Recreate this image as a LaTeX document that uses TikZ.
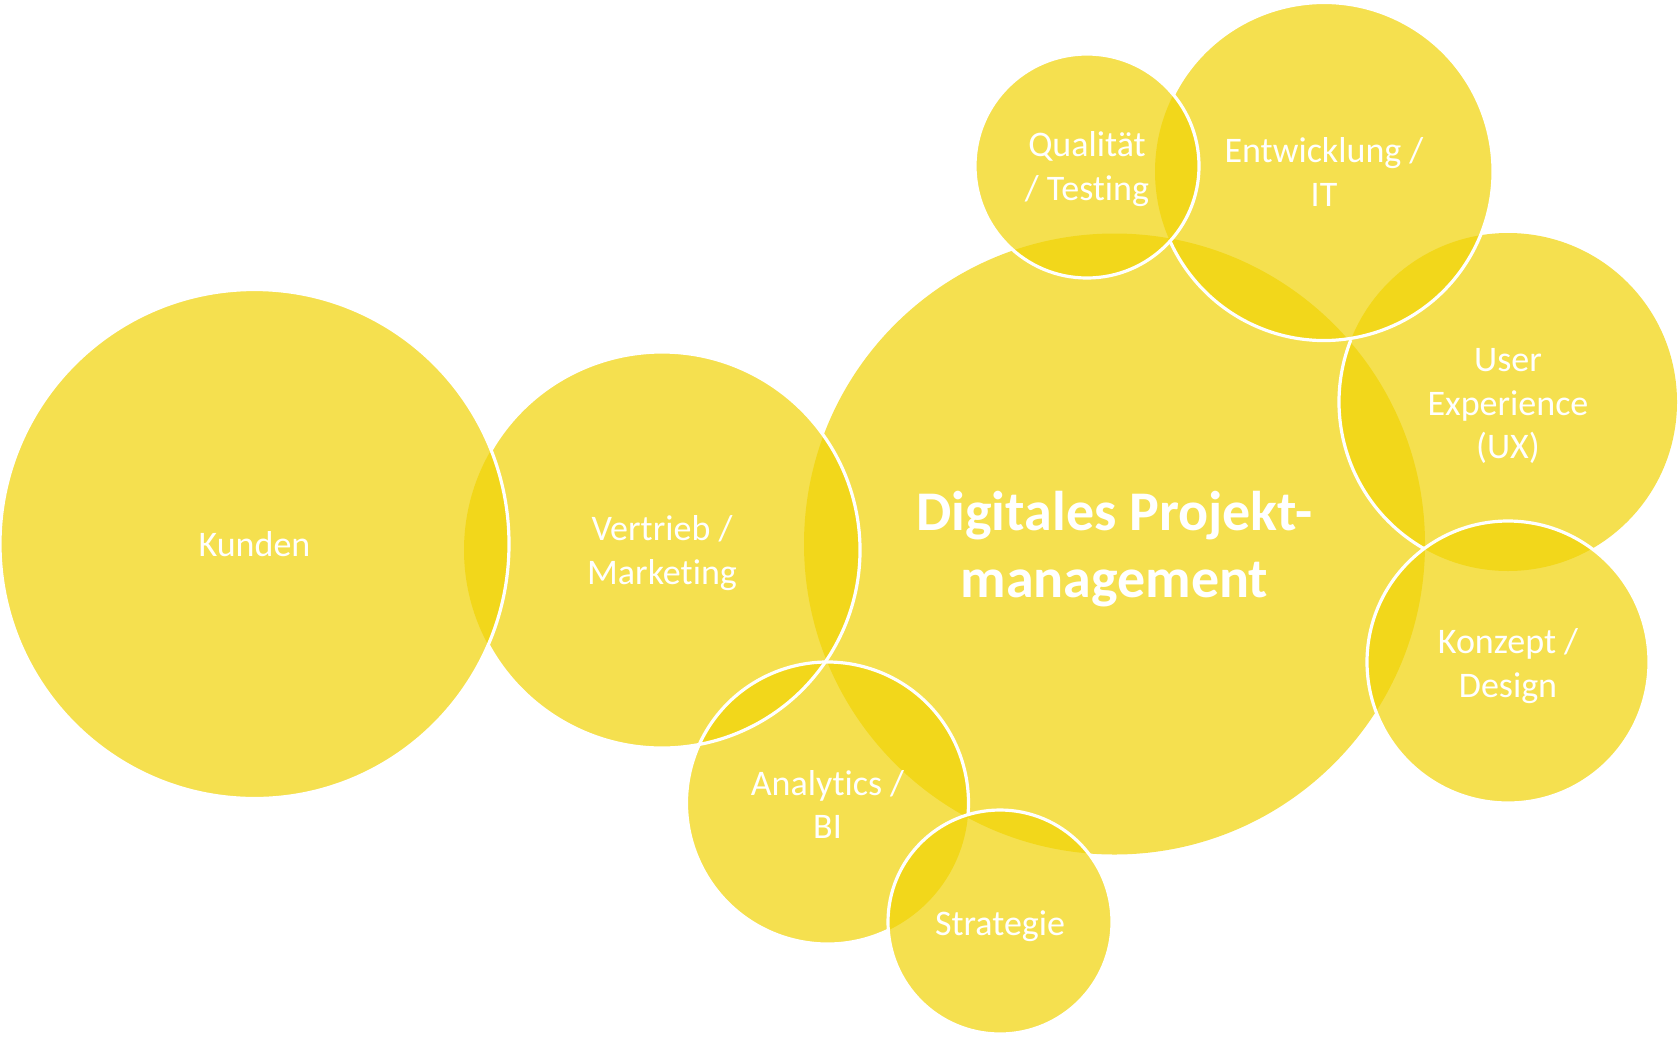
\documentclass[tikz,border=0pt]{standalone}
\usepackage{fontspec}
\setmainfont{Carlito}[Ligatures=NoCommon]
\definecolor{bubblefill}{RGB}{241,212,5}
\tikzset{
  bubble/.style={circle, minimum size=#1, inner sep=0pt, fill=bubblefill,
    fill opacity=0.7},
  lbl/.style={inner sep=0pt, text=white, align=center,
    font=\fontsize{36}{43.5}\selectfont},
  titlelbl/.style={inner sep=0pt, text=white, align=center,
    font=\bfseries\fontsize{56}{67.5}\selectfont},
  ring/.style={draw=white, line width=3.2pt}
}
\begin{document}
\begin{tikzpicture}[x=1pt,y=-1pt]
\useasboundingbox (0,0) rectangle (1680,1039);
\fill[white] (0,0) rectangle (1680,1039);
% bubbles
\node[bubble=509] (kunden) at (254.5,544) {};
\node[bubble=396] (vertrieb) at (662,550) {};
\node[bubble=621] (digital) at (1114.5,544) {};
\node[bubble=224] (qualitaet) at (1087,166) {};
\node[bubble=338] (entw) at (1324,171.5) {};
\node[bubble=338] (ux) at (1508,402) {};
\node[bubble=282] (konzept) at (1508,662) {};
\node[bubble=282] (analytics) at (827.5,803) {};
\node[bubble=224] (strategie) at (1000,922) {};
% white outlines
\draw[ring] (kunden.center) circle[radius=254.5];
\draw[ring] (vertrieb.center) ++(210.3:198) arc[start angle=210.3, end angle=511.4, radius=198];
\draw[ring] (qualitaet.center) circle[radius=112];
\draw[ring] (entw.center) ++(207.0:169) arc[start angle=207.0, end angle=515.65, radius=169];
\draw[ring] (ux.center) ++(119.6:169) arc[start angle=119.6, end angle=201.5, radius=169];
\draw[ring] (konzept.center) circle[radius=141];
\draw[ring] (analytics.center) ++(64.46:141) arc[start angle=64.46, end angle=364.74, radius=141];
\draw[ring] (strategie.center) circle[radius=112];
% labels
\node[lbl] (kunden-t) at ([yshift=-0.5pt]kunden.center) {Kunden};
\node[lbl] (vertrieb-t) at ([yshift=-3pt]vertrieb.center) {Vertrieb /\\Marketing};
\node[titlelbl] (digital-t) at ([yshift=-5pt]digital.center) {Digitales Projekt-\\management};
\node[lbl] (qualitaet-t) at ([yshift=-3pt]qualitaet.center) {Qualität\\/ Testing};
\node[lbl] (entw-t) at ([yshift=-0.5pt]entw.center) {Entwicklung /\\IT};
\node[lbl] (ux-t) at ([yshift=-4pt]ux.center) {User\\Experience\\(UX)};
\node[lbl] (konzept-t) at ([yshift=-4pt]konzept.center) {Konzept /\\Design};
\node[lbl] (analytics-t) at ([yshift=-1.5pt]analytics.center) {Analytics /\\BI};
\node[lbl] (strategie-t) at ([yshift=-4pt]strategie.center) {Strategie};
\end{tikzpicture}
\end{document}
